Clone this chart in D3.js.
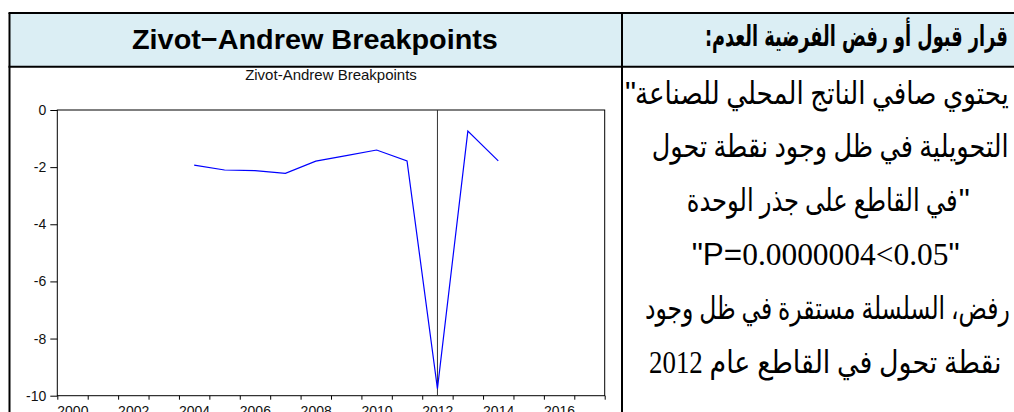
<!DOCTYPE html>
<html>
<head>
<meta charset="utf-8">
<script src="https://cdn.jsdelivr.net/npm/d3@7"></script>
<style>
  body { margin: 0; background: #fff; }
  svg { display: block; }
</style>
</head>
<body>
<svg id="chart" width="1014" height="412"></svg>
<script>
// data
const years = [2004, 2005, 2006, 2007, 2008, 2009, 2010, 2011, 2012, 2013, 2014];
const tStats = [-1.93, -2.10, -2.12, -2.22, -1.79, -1.60, -1.40, -1.78, -9.75, -0.74, -1.78];
const breakYear = 2012;
const yTicks = [0, -2, -4, -6, -8, -10];
const xTickYears = d3.range(2000, 2019);
const xLabelYears = [2000, 2002, 2004, 2006, 2008, 2010, 2012, 2014, 2016];

const headerLeft = "Zivot\u2212Andrew Breakpoints";
const headerRight = "قرار قبول أو رفض الفرضية العدم:\u200F";
const chartTitle = "Zivot-Andrew Breakpoints";
// quote: "L" = a quote mark stands at the left end, "R" = at the right end
const bodyLines = [
  { text: "يحتوي صافي الناتج المحلي للصناعة", quote: "L" },
  { text: "التحويلية في ظل وجود نقطة تحول", quote: "" },
  { text: "في القاطع على جذر الوحدة", quote: "R" },
  { text: null, quote: "" }, // p-value line
  { text: "رفض، السلسلة مستقرة في ظل وجود", quote: "" },
  { text: "نقطة تحول في القاطع عام 2012", quote: "" }
];
const pValueParts = ["\"P=", "0.0000004<0.05", "\""];

const svg = d3.select("#chart");
const sans = "'Liberation Sans', Arial, sans-serif";
const arabic = "'Liberation Serif', 'DejaVu Sans', serif";

// squeeze a text to a given width by font size, then stretch it back up to the wanted height
function fitText(t, x0, w, y, size) {
  t.attr("x", x0).attr("y", y).attr("font-size", size);
  const w0 = t.node().getComputedTextLength();
  const s = size * w / w0;
  t.attr("font-size", s);
  const k = size / s;
  if (Math.abs(k - 1) > 0.01)
    t.attr("transform", `translate(0,${y}) scale(1,${k}) translate(0,${-y})`);
}

// --- table frame ---
const tbl = { left: 9.5, mid: 622, top: 13, headBottom: 66.7, right: 1030 };

svg.append("rect")
  .attr("x", tbl.left).attr("y", tbl.top)
  .attr("width", tbl.right - tbl.left).attr("height", tbl.headBottom - tbl.top)
  .attr("fill", "#dbeef4");

const borders = svg.append("g").attr("stroke", "#000").attr("stroke-width", 2);
borders.append("line").attr("x1", tbl.left - 1).attr("x2", 1014).attr("y1", tbl.top).attr("y2", tbl.top);
borders.append("line").attr("x1", tbl.left - 1).attr("x2", 1014).attr("y1", tbl.headBottom).attr("y2", tbl.headBottom);
borders.append("line").attr("x1", tbl.left).attr("x2", tbl.left).attr("y1", tbl.top).attr("y2", 412);
borders.append("line").attr("x1", tbl.mid).attr("x2", tbl.mid).attr("y1", tbl.top).attr("y2", 412);

const hl = svg.append("text")
  .attr("font-family", sans).attr("font-weight", "bold")
  .text(headerLeft);
fitText(hl, 132, 366, 49, 28.5);

const hr = svg.append("text")
  .attr("font-family", "'DejaVu Sans', sans-serif").attr("font-weight", "bold")
  .text(headerRight);
fitText(hr, 705, 303, 46, 29);

// --- right cell text ---
const lineBoxes = [
  { x: 625, w: 384, y: 103.6 },
  { x: 651.7, w: 357, y: 157.4 },
  { x: 686.7, w: 281, y: 211.2 },
  { x: 691.7, w: 268, y: 265 },
  { x: 645, w: 365, y: 318.8 },
  { x: 649, w: 352.7, y: 372.6 }
];
const bodySize = 31;
const quoteW = 10;
const body = svg.append("g").attr("fill", "#000");
bodyLines.forEach((ln, i) => {
  const b = lineBoxes[i];
  if (ln.text === null) {
    const t = body.append("text");
    t.append("tspan").attr("font-family", sans).text(pValueParts[0]);
    t.append("tspan").attr("font-family", "'Liberation Serif', serif").text(pValueParts[1]);
    t.append("tspan").attr("font-family", sans).text(pValueParts[2]);
    fitText(t, b.x, b.w, b.y, bodySize);
    return;
  }
  let x0 = b.x, w = b.w;
  if (ln.quote === "L") {
    body.append("text").attr("x", b.x).attr("y", b.y)
      .attr("font-family", sans).attr("font-size", bodySize).text("\"");
    x0 += quoteW; w -= quoteW;
  } else if (ln.quote === "R") {
    body.append("text").attr("x", b.x + b.w - quoteW + 1).attr("y", b.y)
      .attr("font-family", sans).attr("font-size", bodySize).text("\"");
    w -= quoteW;
  }
  const t = body.append("text").attr("font-family", arabic).text(ln.text);
  fitText(t, x0, w, b.y, bodySize);
});

// --- chart ---
const plot = { left: 57.3, right: 604.7, top: 110, bottom: 395.7 };
const x = d3.scaleLinear().domain([2000, 2018]).range([plot.left, plot.right]);
const y = d3.scaleLinear().domain([-10, 0]).range([plot.bottom, plot.top]);

svg.append("text")
  .attr("x", (plot.left + plot.right) / 2).attr("y", 80)
  .attr("text-anchor", "middle")
  .attr("font-family", sans).attr("font-size", 15)
  .attr("fill", "#111")
  .text(chartTitle);

const yAxis = svg.append("g")
  .attr("transform", `translate(${plot.left},0)`)
  .call(d3.axisLeft(y).tickValues(yTicks).tickSize(7).tickPadding(4).tickFormat(d => String(d)));
yAxis.select(".domain").remove();
yAxis.selectAll("text").attr("font-family", sans).attr("font-size", 14).attr("fill", "#111");

const xAxis = svg.append("g")
  .attr("transform", `translate(0,${plot.bottom})`)
  .call(d3.axisBottom(x).tickValues(xTickYears).tickSize(4).tickPadding(6)
    .tickFormat(d => xLabelYears.includes(d) ? d : ""));
xAxis.select(".domain").remove();
xAxis.selectAll("text")
  .attr("text-anchor", "start").attr("x", -0.5)
  .attr("font-family", sans).attr("font-size", 14).attr("fill", "#111");

svg.append("rect")
  .attr("x", plot.left).attr("y", plot.top)
  .attr("width", plot.right - plot.left).attr("height", plot.bottom - plot.top)
  .attr("fill", "none").attr("stroke", "#000").attr("stroke-width", 1);

svg.append("line")
  .attr("x1", x(breakYear + 0.5)).attr("x2", x(breakYear + 0.5))
  .attr("y1", plot.top).attr("y2", plot.bottom)
  .attr("stroke", "#333").attr("stroke-width", 1);

const line = d3.line()
  .x((d, i) => x(years[i] + 0.5))
  .y(d => y(d));

svg.append("path")
  .datum(tStats)
  .attr("d", line)
  .attr("fill", "none")
  .attr("stroke", "#0000ff")
  .attr("stroke-width", 1.2);
</script>
</body>
</html>
